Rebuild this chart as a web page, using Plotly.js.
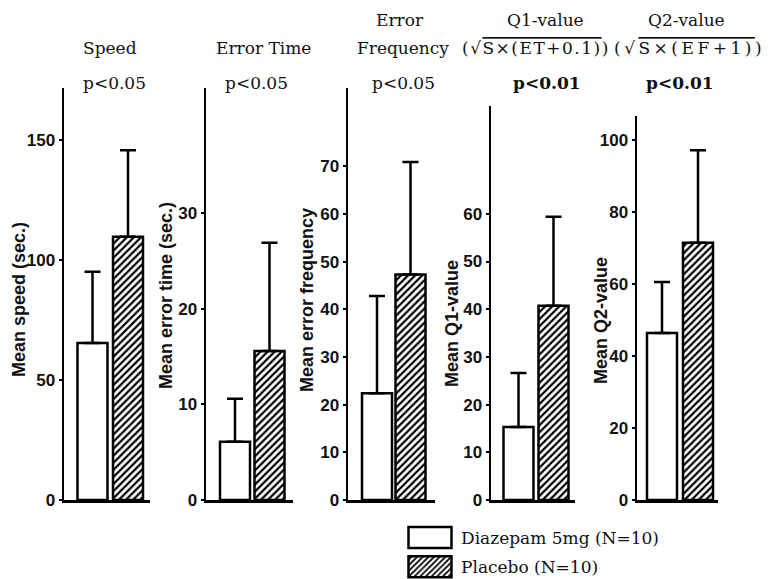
<!DOCTYPE html>
<html><head><meta charset="utf-8">
<script src="https://cdn.plot.ly/plotly-3.0.1.min.js"></script>
<style>html,body{margin:0;padding:0;background:#fff;overflow:hidden}</style>
</head><body><div id="chart" style="width:770px;height:620px"></div>
<script>
// ---- data ----
const panels = ['Speed','Error Time','Error Frequency','Q1-value','Q2-value'];
const titleLines = [['Speed'],['Error Time'],['Error','Frequency'],
  ['Q1-value','<span style="letter-spacing:1.5px">(√<span style="text-decoration:overline">S×(ET+0.1)</span>)</span>'],
  ['Q2-value','<span style="letter-spacing:3.5px">(√<span style="text-decoration:overline">S×(EF+1)</span>)</span>']];
const pLabels = ['p&lt;0.05','p&lt;0.05','p&lt;0.05','<b>p&lt;0.01</b>','<b>p&lt;0.01</b>'];
const yTitles = ['Mean speed (sec.)','Mean error time (sec.)','Mean error frequency','Mean Q1-value','Mean Q2-value'];
const groups = ['Diazepam 5mg (N=10)','Placebo (N=10)'];
const diazepamMean = [65.4, 6.1, 22.4, 15.3, 46.4];
const diazepamSD   = [29.7, 4.5, 20.4, 11.3, 14.2];
const placeboMean  = [109.7, 15.6, 47.3, 40.7, 71.5];
const placeboSD    = [36.1, 11.3, 23.6, 18.7, 25.7];
const yTicks = [[0,50,100,150],[0,10,20,30],[0,10,20,30,40,50,60,70],[0,10,20,30,40,50,60],[0,20,40,60,80,100]];

// ---- geometry (pixels, from top-left of the 770x579 view) ----
const W = 770, H = 620, BASE = 500;
const geom = [
  {axis:64,  cD:92.5,  cP:128,   end:150, top:88,  yMax:171.7, tx:[110], px:114, ytx:19,  yty:300},
  {axis:206, cD:235,   cP:269.5, end:293, top:88,  yMax:43.1,  tx:[263], px:256, ytx:166, yty:296},
  {axis:348, cD:377,   cP:410.5, end:435, top:88,  yMax:86.4,  tx:[400,403], px:403, ytx:307, yty:300},
  {axis:491, cD:518.5, cP:553.5, end:575, top:106, yMax:82.6,  tx:[545,536], px:547, ytx:452, yty:324},
  {axis:637, cD:662,   cP:698,   end:718, top:116, yMax:106.7, tx:[686,689], px:680, ytx:601, yty:321}
];
const fx = p => p / W, fy = p => (H - p) / H;

const titleFont = {family:'DejaVu Serif', size:17, color:'#111'};
const axisFont = {family:'Liberation Sans, Arial', size:18, color:'#111', weight:'bold'};
const tickFont = {family:'Liberation Sans, Arial', size:17, color:'#111', weight:'bold'};

const traces = [], annotations = [];
const layout = {
  width:W, height:H, margin:{l:0,r:0,t:0,b:0},
  paper_bgcolor:'white', plot_bgcolor:'white',
  showlegend:true, barmode:'overlay',
  legend:{x:fx(399), y:fy(520), xanchor:'left', yanchor:'top', font:{family:'DejaVu Serif', size:17, color:'#111'},
          itemwidth:52, tracegroupgap:4, bgcolor:'rgba(0,0,0,0)'},
  annotations: annotations
};

panels.forEach((name, i) => {
  const g = geom[i];
  const n = i === 0 ? '' : String(i + 1);
  const unit = g.cP - g.cD;
  const bw = 30 / unit;
  const xa = 'x' + n, ya = 'y' + n;
  const common = {type:'bar', xaxis:xa, yaxis:ya, width:[bw], hoverinfo:'skip', cliponaxis:false};
  traces.push(Object.assign({}, common, {
    name: groups[0], legendgroup:'d', showlegend: i === 0,
    x:[0], y:[diazepamMean[i]],
    marker:{color:'white', line:{color:'black', width:2.5}},
    error_y:{type:'data', symmetric:false, array:[diazepamSD[i]], arrayminus:[0], color:'black', thickness:2.5, width:8}
  }));
  traces.push(Object.assign({}, common, {
    name: groups[1], legendgroup:'p', showlegend: i === 0,
    x:[1], y:[placeboMean[i]],
    marker:{color:'white', line:{color:'black', width:2.5},
      pattern:{shape:'/', fgcolor:'black', bgcolor:'white', size:5, solidity:0.45}},
    error_y:{type:'data', symmetric:false, array:[placeboSD[i]], arrayminus:[0], color:'black', thickness:2.5, width:8}
  }));
  layout['xaxis' + n] = {
    domain:[fx(g.axis), fx(g.end)], anchor:ya,
    range:[(g.axis - g.cD) / unit, (g.end - g.cD) / unit],
    showline:true, linecolor:'black', linewidth:2.5, showticklabels:false, ticks:'',
    showgrid:false, zeroline:false, fixedrange:true
  };
  layout['yaxis' + n] = {
    domain:[fy(BASE), fy(g.top)], anchor:xa, range:[0, g.yMax],
    showline:true, linecolor:'black', linewidth:2.5, ticks:'outside', ticklen:3, tickwidth:2, tickcolor:'black',
    tickvals:yTicks[i], ticktext:yTicks[i].map(String), tickfont:tickFont, ticklabelstandoff:0,
    showgrid:false, zeroline:false, fixedrange:true
  };
  const lines = titleLines[i];
  const ys = lines.length === 1 ? [48] : [20, 48];
  lines.forEach((t, k) => annotations.push({
    text:t, xref:'paper', yref:'paper', x:fx(g.tx[k]), y:fy(ys[k]),
    xanchor:'center', yanchor:'middle', showarrow:false, font:titleFont
  }));
  annotations.push({
    text:pLabels[i], xref:'paper', yref:'paper', x:fx(g.px), y:fy(83),
    xanchor:'center', yanchor:'middle', showarrow:false, font:titleFont
  });
  annotations.push({
    text:yTitles[i], xref:'paper', yref:'paper', x:fx(g.ytx), y:fy(g.yty), textangle:-90,
    xanchor:'center', yanchor:'middle', showarrow:false, font:axisFont
  });
});

Plotly.newPlot('chart', traces, layout, {staticPlot:true}).then(gd => {
  gd.querySelectorAll('.legend .legendpoints path').forEach(p => {
    p.setAttribute('d', 'M-21.5,-10.5H21.5V10.5H-21.5Z');
  });
});
</script>
</body></html>
